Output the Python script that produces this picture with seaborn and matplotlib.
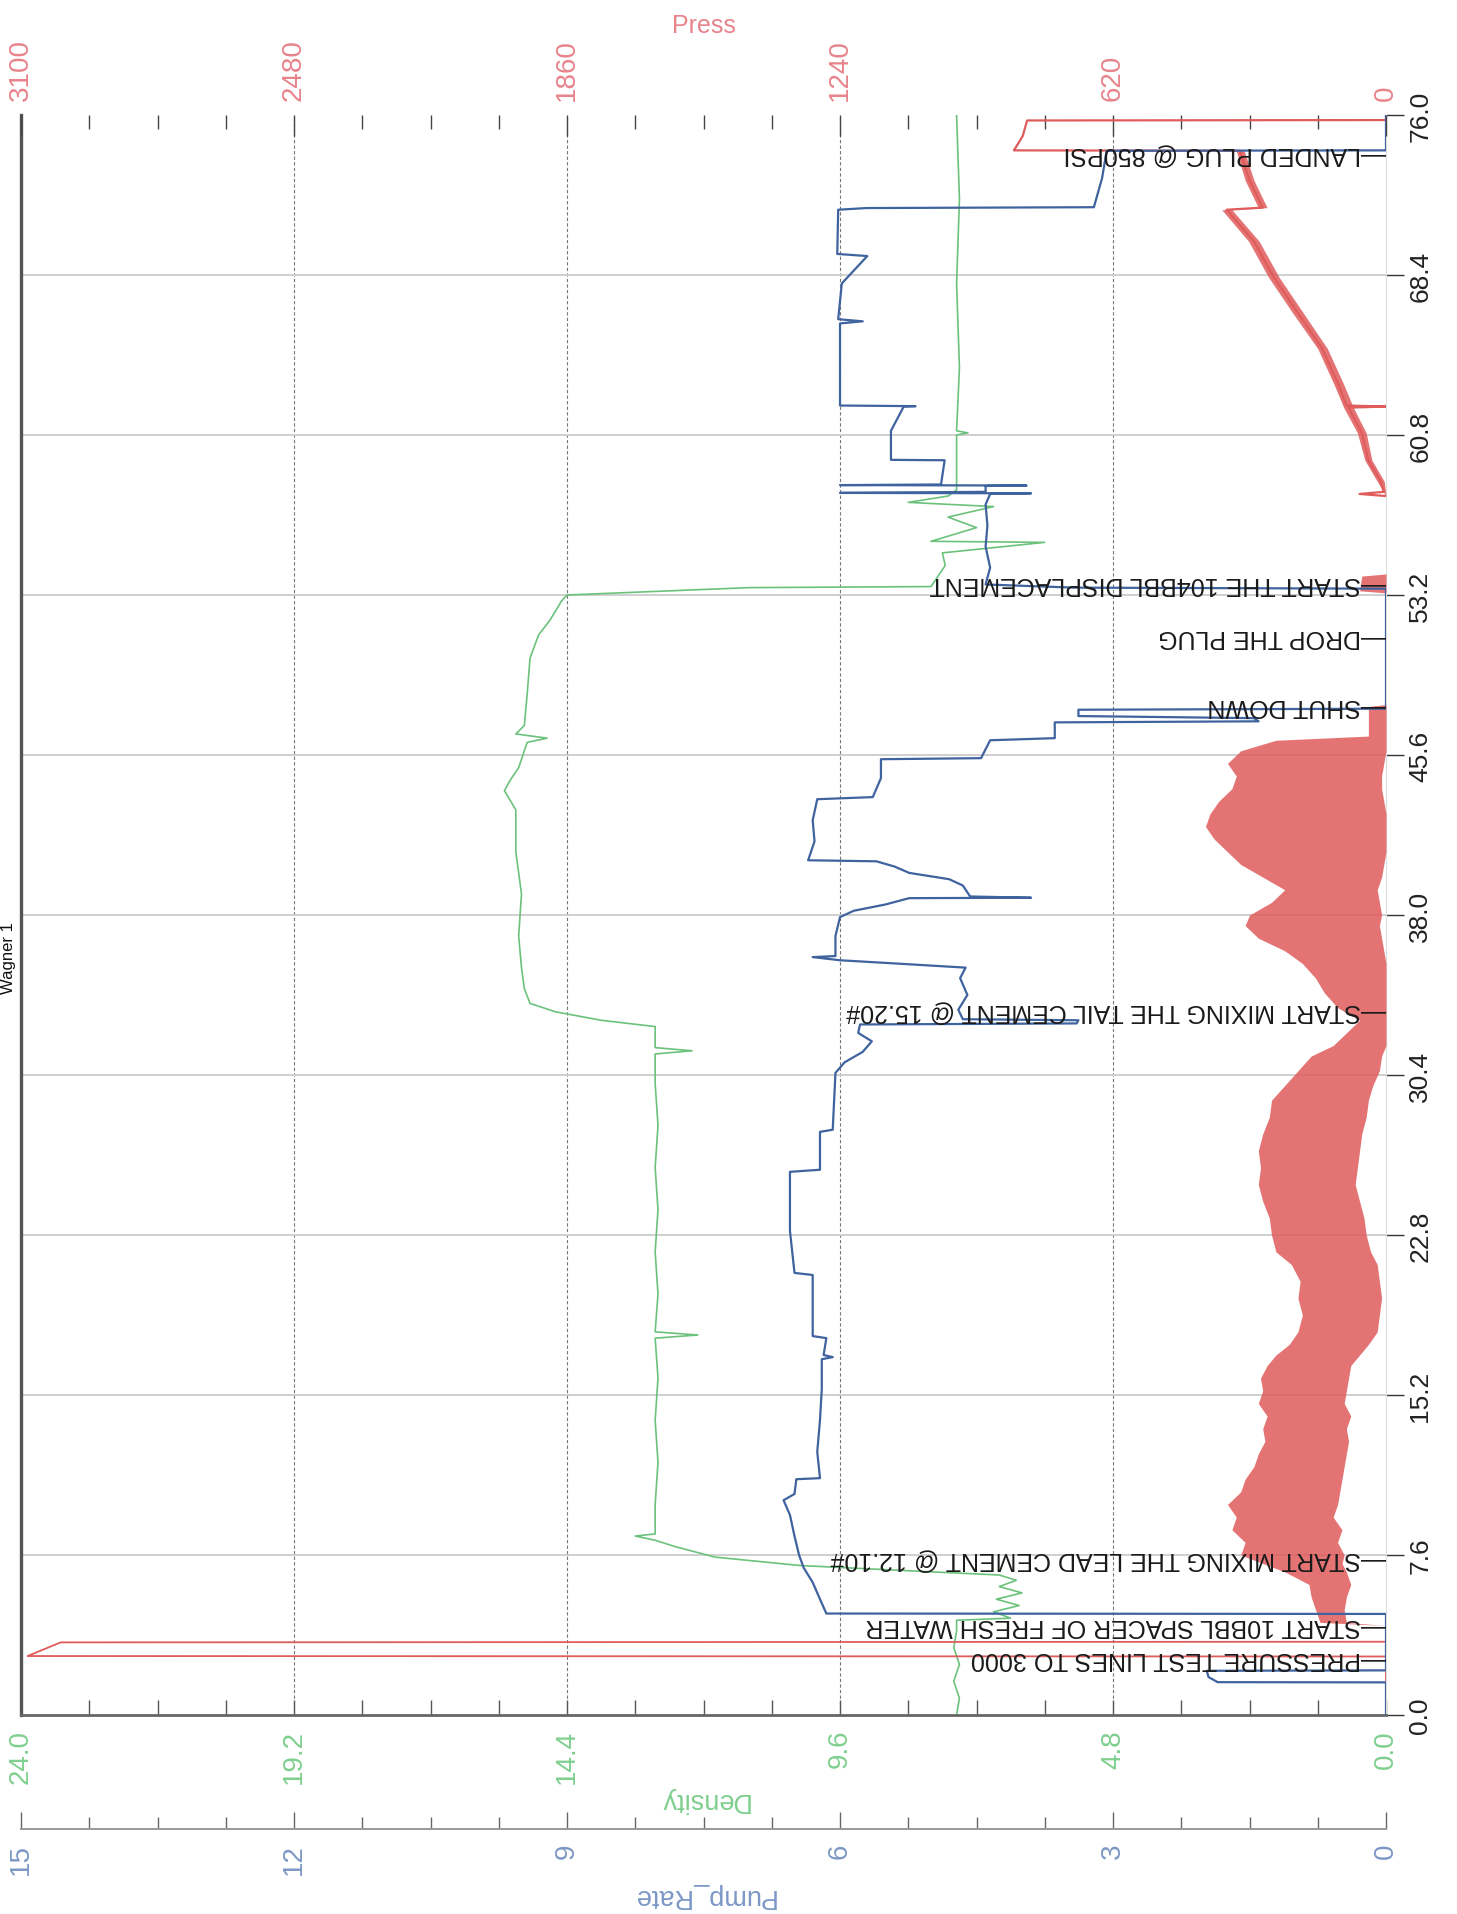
import matplotlib
matplotlib.use('Agg')
import matplotlib.pyplot as plt
import seaborn as sns
from matplotlib.ticker import FixedLocator, MultipleLocator

# the scanned job log is turned on its side: time runs upwards,
# pump rate / density / pressure grow to the left

time_ticks = [0.0, 7.6, 15.2, 22.8, 30.4, 38.0, 45.6, 53.2, 60.8, 68.4, 76.0]
dens_ticks = [0.0, 4.8, 9.6, 14.4, 19.2, 24.0]
press_ticks = [0, 620, 1240, 1860, 2480, 3100]
pump_ticks = [0, 3, 6, 9, 12, 15]

# Density
dens_t = [0, 0.8, 1.6, 2.4, 3.2, 4.0, 4.5, 4.6, 4.9, 5.2, 5.5, 5.8, 6.1, 6.4, 6.65,
          6.8, 7.1, 7.5, 8.0, 8.3, 8.5, 8.6, 10, 12, 14, 16, 17.9, 18.05, 18.2,
          20, 22, 24, 26, 28, 30, 31.4, 31.55, 31.7, 32.7, 33.0, 33.4, 33.8, 34.5,
          35.5, 37, 39, 41, 43, 43.9, 44.4, 45.0, 46.2, 46.4, 46.6, 47.0, 48.5,
          50.2, 51.3, 52.0, 52.9, 53.2, 53.55, 53.6, 54.0, 54.6, 55.2, 55.7, 55.75,
          56.4, 56.9, 57.4, 57.6, 57.9, 58.2, 60.8, 60.9, 61.0, 64, 68, 72, 76]
dens_v = [7.55, 7.5, 7.6, 7.5, 7.6, 7.55, 7.55, 6.6, 6.9, 6.45, 6.85, 6.4, 6.8, 6.5, 6.8,
          8.0, 10.3, 11.8, 12.5, 12.85, 13.2, 12.85, 12.85, 12.8, 12.85, 12.8, 12.85, 12.1, 12.85,
          12.8, 12.85, 12.8, 12.85, 12.8, 12.85, 12.85, 12.2, 12.85, 12.85, 13.8, 14.6, 15.05, 15.15,
          15.2, 15.25, 15.2, 15.3, 15.3, 15.5, 15.4, 15.25, 15.1, 14.75, 15.3, 15.15, 15.1,
          15.05, 14.9, 14.7, 14.5, 14.4, 11.2, 8.0, 7.9, 7.75, 7.8, 6.0, 8.0,
          7.2, 7.7, 6.9, 8.4, 7.7, 7.55, 7.55, 7.35, 7.55, 7.5, 7.55, 7.5, 7.55]

# Pump_Rate
pump_t = [0, 1.55, 1.56, 1.8, 2.1, 2.12, 4.8, 4.82, 5.5, 6.3, 7.0, 7.6, 8.5, 9.5, 10.2,
          10.5, 11.2, 11.25, 12.5, 14.0, 15.5, 16.9, 17.0, 17.1, 17.9, 18.0, 20.9, 21.0,
          23.0, 25.8, 25.9, 27.7, 27.8, 30.5, 31.0, 31.5, 32.0, 32.4, 32.8, 32.85, 33.0,
          33.05, 33.5, 34.2, 35.0, 35.5, 35.7, 35.85, 36.0, 36.05, 37.0, 37.9, 38.2, 38.5,
          38.8, 38.82, 38.88, 39.4, 39.7, 40.0, 40.3, 40.55, 40.6, 41.5, 42.5, 43.5, 43.6,
          44.5, 45.4, 45.45, 46.3, 46.4, 47.15, 47.2, 47.35, 47.45, 47.75, 47.8, 53.5,
          53.55, 53.7, 54.5, 55.5, 56.5, 57.5, 58.0, 58.03, 58.05, 58.1, 58.38, 58.4, 58.42,
          58.45, 59.6, 59.62, 61.0, 62.15, 62.17, 62.2, 64.0, 66.1, 66.2, 66.3, 68.0, 69.3,
          69.4, 71.5, 71.58, 71.62, 73.0, 74.3, 74.32, 76]
pump_v = [0, 0, 1.85, 1.95, 1.97, 0, 0, 6.15, 6.22, 6.3, 6.4, 6.45, 6.5, 6.55, 6.62,
          6.5, 6.48, 6.22, 6.25, 6.22, 6.2, 6.2, 6.08, 6.18, 6.15, 6.3, 6.3, 6.5,
          6.55, 6.55, 6.22, 6.22, 6.08, 6.05, 5.95, 5.75, 5.65, 5.8, 5.78, 3.4, 3.38,
          4.65, 4.7, 4.6, 4.68, 4.62, 5.4, 6.0, 6.3, 6.05, 6.05, 6.0, 5.85, 5.5,
          5.24, 3.9, 4.57, 4.65, 4.8, 5.24, 5.4, 5.6, 6.35, 6.28, 6.3, 6.25, 5.64,
          5.55, 5.55, 4.45, 4.35, 3.64, 3.64, 1.4, 1.45, 3.38, 3.38, 0, 0,
          3.43, 4.4, 4.35, 4.4, 4.38, 4.4, 4.35, 3.9, 6.0, 4.4, 4.4, 3.95, 6.0,
          4.89, 4.85, 5.44, 5.44, 5.3, 5.17, 6.0, 6.0, 6.0, 5.75, 6.02, 5.98, 5.7,
          6.03, 6.02, 5.71, 3.21, 3.12, 3.07, 0, 0]

# Press: clean parts drawn as a line
press_test_t = [0, 2.78, 2.8, 3.45, 3.48, 4.25]
press_test_v = [0, 0, 3085, 3010, 0, 0]
press_late_t = [57.9, 58.0, 58.1, 58.6, 59.6, 60.9, 62.1, 62.15, 62.2, 63.2, 64.9, 66.6,
                68.3, 70.0, 71.5, 71.6, 72.9, 74.3, 74.32, 75.0, 75.74, 75.76, 76]
press_late_v = [0, 60, 5, 12, 40, 55, 85, 0, 90, 108, 145, 200,
                255, 300, 362, 280, 310, 332, 845, 825, 815, 0, 0]

# Press: noisy parts drawn as a band (low / high envelope)
band_t = [4.25, 4.4, 5.0, 5.6, 6.2, 6.8, 7.2, 7.6, 8.2, 8.8, 9.4, 10.0, 10.6, 11.2,
          11.8, 12.4, 13.0, 13.6, 14.2, 14.8, 15.4, 16.0, 16.6, 17.1, 17.6, 18.2,
          19.0, 19.8, 20.6, 21.4, 22.0, 22.8, 23.6, 24.4, 25.2, 26.0, 26.8, 27.6,
          28.4, 29.2, 29.9, 30.6, 31.3, 31.8, 32.4, 33.0, 33.6, 34.3, 35.0, 35.7,
          36.3, 36.9, 37.5, 38.0, 38.6, 39.2, 39.8, 40.4, 41.0, 41.6, 42.2, 42.8,
          43.4, 44.0, 44.6, 45.2, 45.8, 46.3, 46.5, 47.9, 48.0, 53.3, 53.4, 54.1,
          54.2, 57.9, 58.6, 59.6, 60.9, 62.1, 63.2, 64.9, 66.6, 68.3, 70.0, 71.5,
          71.6, 72.9, 74.3]
band_lo = [0, 90, 95, 90, 80, 90, 100, 95, 110, 100, 120, 110, 105, 100,
           95, 90, 85, 90, 80, 95, 90, 85, 80, 60, 40, 20,
           15, 10, 15, 20, 35, 45, 50, 60, 70, 65, 60, 55,
           45, 40, 30, 15, 10, 0, 0, 0, 0, 0, 0, 0,
           5, 10, 15, 10, 15, 20, 10, 5, 0, 0, 0, 0,
           5, 10, 10, 5, 0, 0, 0, 0, 0, 0, 0, 0,
           0, 0, 4, 32, 45, 74, 96, 133, 188, 243, 288, 350,
           270, 300, 322]
band_hi = [0, 150, 160, 170, 175, 230, 280, 330, 320, 350, 340, 360, 330, 320,
           300, 290, 275, 280, 270, 290, 280, 285, 270, 250, 220, 200,
           190, 200, 195, 215, 250, 260, 265, 280, 290, 285, 290, 280,
           265, 260, 230, 200, 170, 120, 90, 60, 110, 140, 160, 190,
           230, 290, 320, 310, 260, 230, 280, 330, 360, 390, 410, 400,
           380, 350, 340, 360, 330, 250, 40, 40, 0, 0, 60, 55,
           0, 0, 20, 48, 65, 96, 118, 155, 212, 267, 312, 373,
           290, 320, 340]

event_t = [2.73, 4.29, 7.43, 33.47, 47.98, 51.23, 53.78, 74.14]
event_label = ['PRESSURE TEST LINES TO 3000',
               'START 10BBL SPACER OF FRESH WATER',
               'START MIXING THE LEAD CEMENT @ 12.10#',
               'START MIXING THE TAIL CEMENT @ 15.20#',
               'SHUT DOWN',
               'DROP THE PLUG',
               'START THE 104BBL DISPLACEMENT',
               'LANDED PLUG @ 850PSI']

press_col, press_txt = '#e05c5c', '#e8838b'
pump_col, pump_txt = '#3f639f', '#7d98c6'
dens_col, dens_txt = '#6cc27c', '#7fcf8e'

sns.set_style('white')
plt.rcParams['font.family'] = ['Liberation Sans', 'DejaVu Sans']
narrow = ['Liberation Sans Narrow', 'Liberation Sans', 'DejaVu Sans']

W, H = 1457, 1915
fig = plt.figure(figsize=(W / 100, H / 100), dpi=100)
x0, x1, ytop, ybot = 21, 1386, 116, 1716
ax = fig.add_axes([x0 / W, 1 - ybot / H, (x1 - x0) / W, (ybot - ytop) / H])
ax_p = ax.twiny()
ax_r = ax.twiny()

# density on the base axes
sns.lineplot(x=dens_v, y=dens_t, orient='y', sort=False, estimator=None,
             ax=ax, color=dens_col, linewidth=1.2)
# pressure
ax_p.fill_betweenx(band_t, band_lo, band_hi, color=press_col, alpha=0.85, linewidth=0)
sns.lineplot(x=press_test_v, y=press_test_t, orient='y', sort=False, estimator=None,
             ax=ax_p, color=press_col, linewidth=1.3)
sns.lineplot(x=press_late_v, y=press_late_t, orient='y', sort=False, estimator=None,
             ax=ax_p, color=press_col, linewidth=1.6)
# pump rate
sns.lineplot(x=pump_v, y=pump_t, orient='y', sort=False, estimator=None,
             ax=ax_r, color=pump_col, linewidth=1.6)

ax.set_ylim(0, 76)
ax.set_xlim(dens_ticks[-1], 0)
ax_p.set_xlim(press_ticks[-1], 0)
ax_r.set_xlim(pump_ticks[-1], 0)

# time axis on the right
ax.yaxis.tick_right()
ax.yaxis.set_major_locator(FixedLocator(time_ticks))
ax.set_yticklabels([f'{t:.1f}' for t in time_ticks], rotation=90, va='center',
                   family=narrow, fontsize=19, color='#222222')
ax.tick_params(axis='y', direction='out', length=13, width=1.0, color='#333333', pad=3)

# density axis (bottom)
ax.xaxis.set_major_locator(FixedLocator(dens_ticks))
ax.xaxis.set_minor_locator(MultipleLocator(1.2))
ax.set_xticklabels([f'{d:.1f}' for d in dens_ticks], rotation=90, fontsize=20, color=dens_txt)
ax.tick_params(axis='x', which='both', direction='in', color='#555555', width=1.0, pad=10)
ax.tick_params(axis='x', which='minor', length=11)
ax.tick_params(axis='x', which='major', length=11)
ax.set_xlabel('Density', rotation=180, fontsize=19.5, color=dens_txt, va='center')
ax.xaxis.set_label_coords(0.5, -0.0525)

# pressure axis (top)
ax_p.xaxis.set_major_locator(FixedLocator(press_ticks))
ax_p.xaxis.set_minor_locator(MultipleLocator(155))
ax_p.set_xticklabels([str(p) for p in press_ticks], rotation=90, fontsize=20, color=press_txt)
ax_p.tick_params(axis='x', which='both', direction='in', color='#444444', width=1.0, pad=11)
ax_p.tick_params(axis='x', which='minor', length=10)
ax_p.tick_params(axis='x', which='major', length=15)
ax_p.set_xlabel('Press', fontsize=18, color=press_txt)
ax_p.xaxis.set_label_coords(0.5, 1.052)

# pump rate axis (bottom, set lower)
ax_r.xaxis.set_ticks_position('bottom')
ax_r.xaxis.set_label_position('bottom')
ax_r.spines['bottom'].set_position(('outward', 82))
ax_r.xaxis.set_major_locator(FixedLocator(pump_ticks))
ax_r.xaxis.set_minor_locator(MultipleLocator(0.75))
ax_r.set_xticklabels([str(p) for p in pump_ticks], rotation=90, fontsize=20, color=pump_txt)
ax_r.tick_params(axis='x', which='both', direction='in', color='#666666', width=1.0, pad=10)
ax_r.tick_params(axis='x', which='minor', length=9)
ax_r.tick_params(axis='x', which='major', length=12)
ax_r.set_xlabel('Pump_Rate', rotation=180, fontsize=19.5, color=pump_txt, va='center')
ax_r.xaxis.set_label_coords(0.5, -0.1125)

# grid
ax.grid(False)
ax_p.grid(False)
ax_r.grid(False)
for d in dens_ticks[1:-1]:
    ax.axvline(d, color='#777777', linewidth=0.8, linestyle=(0, (3, 2)), zorder=0)
for t in time_ticks[1:-1]:
    ax.axhline(t, color='#cfcfcf', linewidth=1.4, zorder=0)

# spines
for s in ax.spines.values():
    s.set_visible(False)
ax.spines['left'].set_visible(True)
ax.spines['left'].set_color('#555555')
ax.spines['left'].set_linewidth(2.4)
ax.spines['bottom'].set_visible(True)
ax.spines['bottom'].set_color('#666666')
ax.spines['bottom'].set_linewidth(2.0)
ax.spines['right'].set_visible(True)
ax.spines['right'].set_color('#dddddd')
ax.spines['right'].set_linewidth(0.8)
for s in ax_p.spines.values():
    s.set_visible(False)
for name, s in ax_r.spines.items():
    s.set_visible(name == 'bottom')
ax_r.spines['bottom'].set_color('#999999')
ax_r.spines['bottom'].set_linewidth(1.4)

# event labels
tr = ax_r.get_yaxis_transform()
for t, lab in zip(event_t, event_label):
    ax_r.text(1.0, t, '\u2014' + lab, transform=tr, rotation=180, ha='right', va='center',
              family=narrow, fontsize=18, color='#1a1a1a', zorder=10)

# title sits at the very edge of the scan
fig.text(1 / W, 1 - 958 / H, 'Wagner 1', rotation=90, ha='left', va='center',
         fontsize=12, color='#111111')

fig.savefig('out.png', dpi=100)
